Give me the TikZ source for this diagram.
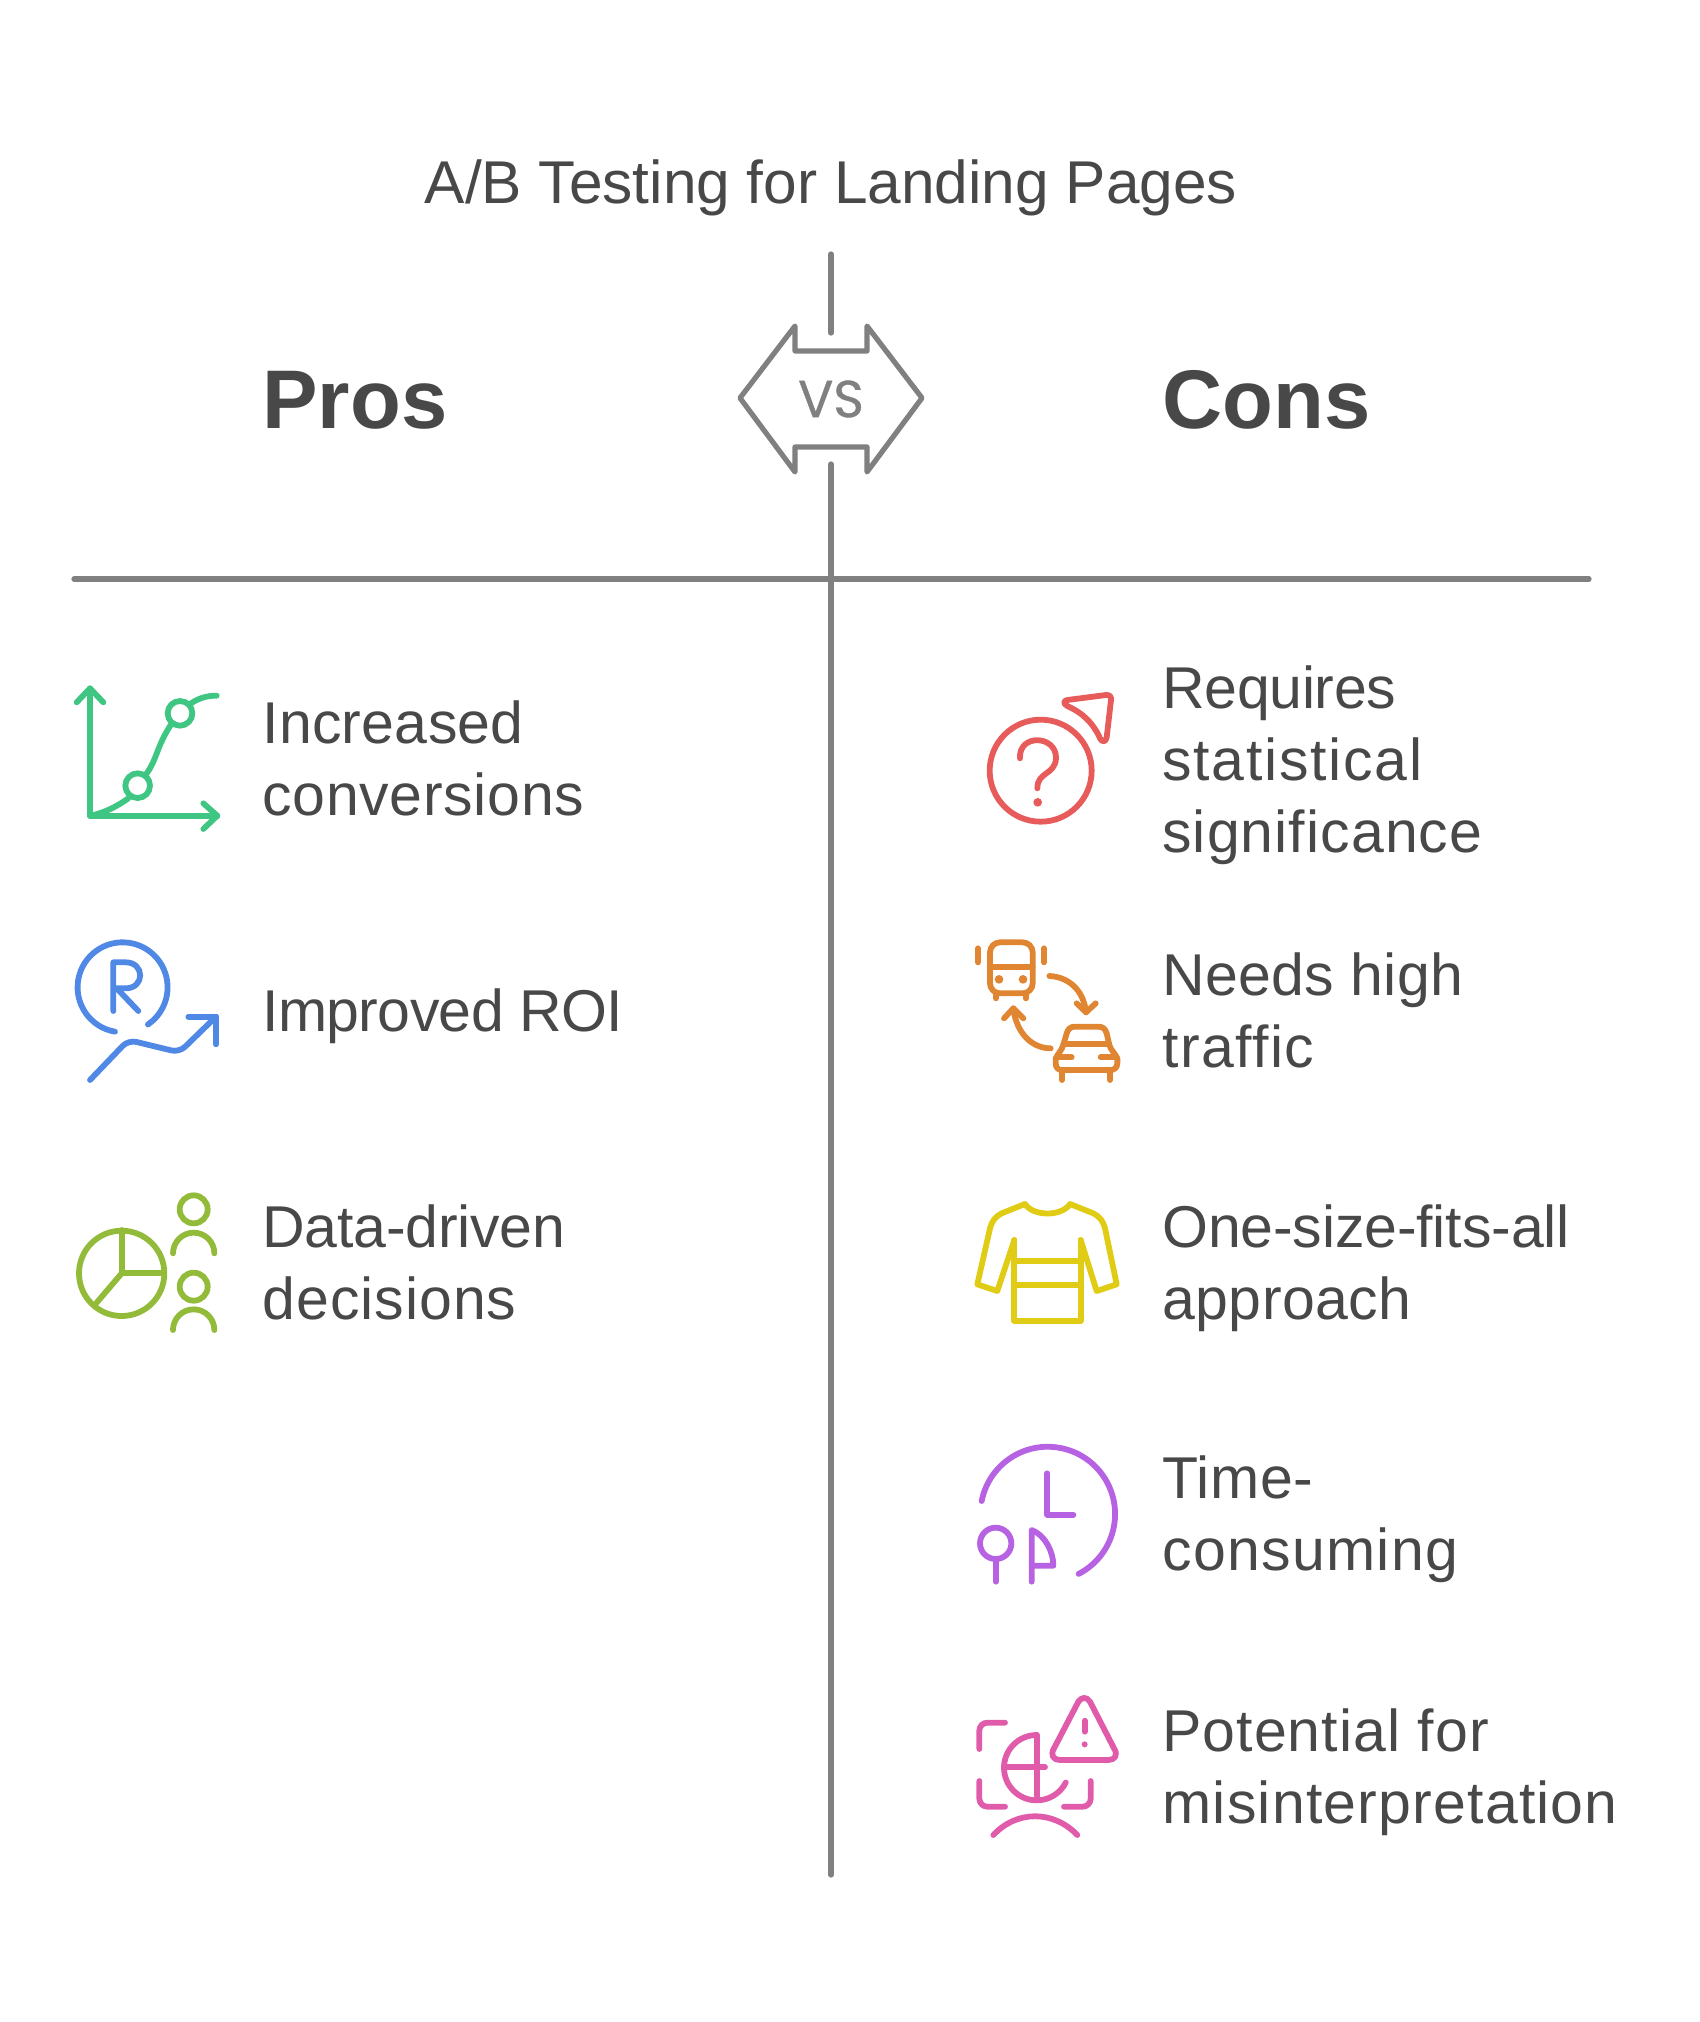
\documentclass[tikz,border=0pt]{standalone}
\usepackage{fontspec}
\setmainfont{Liberation Sans}
\newfontfamily\vsfont[FakeBold=0.7]{Poppins}
\definecolor{ink}{HTML}{484848}
\definecolor{rule}{HTML}{808080}
\definecolor{cgreen}{HTML}{3EC682}
\definecolor{cblue}{HTML}{4F88E5}
\definecolor{clime}{HTML}{93BB3A}
\definecolor{cred}{HTML}{E85B5B}
\definecolor{corange}{HTML}{E08633}
\definecolor{cyellow}{HTML}{E0CB15}
\definecolor{cpurple}{HTML}{B762E2}
\definecolor{cpink}{HTML}{E05CAB}
\tikzset{
  x=0.5pt,y=-0.5pt,
  rulerline/.style={draw=rule,line width=2.6pt,line cap=round,line join=round},
  icon/.style={x=0.16667pt,y=-0.16667pt,line width=2.9pt,line cap=round,line join=round},
  label/.style={anchor=north west,inner sep=0pt,text=ink,align=left,font=\fontsize{29.5}{36}\selectfont},
  head/.style={anchor=base west,inner sep=0pt,text=ink,font=\fontsize{41.6}{48}\selectfont\bfseries},
}
\newcommand{\sz}{\rule{0pt}{30pt}}
\newcommand{\ls}[2]{{\addfontfeature{LetterSpace=#1}#2}}
\begin{document}
\begin{tikzpicture}
\useasboundingbox (0,0) rectangle (1699,2022);
% title and headers
\node[anchor=base,inner sep=0pt,text=ink,font=\fontsize{30.2}{36}\selectfont] (title) at (831,204) {A/B Testing for Landing Pages};
\node[head] (pros) at (262,428) {Pros};
\node[head] (cons) at (1162,428) {Cons};
% rules
\coordinate (vtopA) at (831,254);
\coordinate (vtopB) at (831,333);
\coordinate (vlowA) at (831,464);
\coordinate (vlowB) at (831,1875);
\coordinate (hL) at (74,579);
\coordinate (hR) at (1589,579);
\draw[rulerline] (vtopA) -- (vtopB);
\draw[rulerline] (vlowA) -- (vlowB);
\draw[rulerline] (hL) -- (hR);
% VS badge
\draw[rulerline] (740,398) -- (795,326) -- (795,351) -- (867,351) -- (867,326) -- (922,398) -- (867,472) -- (867,447) -- (795,447) -- (795,472) -- cycle;
\node[inner sep=0pt,text=rule,font=\fontsize{26}{30}\selectfont\vsfont] (vs) at (831,399) {VS};
% labels
\node[label] (l1) at (262,683) {\sz\ls{0.5}{Increased}\\\ls{1.2}{conversions}};
\node[label] (l2) at (262,971) {\sz\ls{-1.1}{Improved ROI}};
\node[label] (l3) at (262,1187) {\sz\ls{-0.4}{Data-driven}\\\ls{1.7}{decisions}};
\node[label] (r1) at (1162,648) {\sz\ls{-0.55}{Requires}\\\ls{3}{statistical}\\\ls{1.8}{significance}};
\node[label] (r2) at (1162,935) {\sz\ls{0.44}{Needs high}\\\ls{2.5}{traffic}};
\node[label] (r3) at (1162,1187) {\sz\ls{-0.26}{One-size-fits-all}\\\ls{0.8}{approach}};
\node[label] (r4) at (1162,1438) {\sz\ls{0.9}{Time-}\\\ls{2.2}{consuming}};
\node[label] (r5) at (1162,1691) {\sz\ls{1.8}{Potential for}\\\ls{2.05}{misinterpretation}};
% icon: growth chart
\begin{scope}[shift={(60,670)},icon,color=cgreen]
\draw (50,97) -- (90,55) -- (130,97);
\draw (90,55) -- (90,437) -- (472,437);
\draw (430,400) -- (472,437) -- (430,477);
\draw (90,437) .. controls (130,430) and (170,410) .. (205,385);
\draw (233,347) circle[radius=37];
\draw (260,310) .. controls (290,270) and (290,230) .. (332,165);
\draw (360,130) circle[radius=37];
\draw (393,100) .. controls (415,85) and (440,77) .. (470,77);
\end{scope}
% icon: ROI
\begin{scope}[shift={(60,925)},icon,color=cblue]
\draw (165,320) arc[start angle=99.7,end angle=415.7,radius=135];
\draw (160,258) -- (160,112) -- (197,112) .. controls (255,112) and (255,190) .. (197,190) -- (160,190);
\draw (175,195) -- (235,258);
\draw[rounded corners=4pt] (90,465) -- (205,345) -- (358,382) -- (468,275);
\draw (385,275) -- (468,275) -- (468,358);
\end{scope}
% icon: pie and people
\begin{scope}[shift={(60,1180)},icon,color=clime]
\draw (185,280) circle[radius=128];
\draw (185,150) -- (185,280) -- (305,280);
\draw (185,280) -- (110,368);
\draw (401,88) circle[radius=42];
\draw (339,220) arc[start angle=180,end angle=360,radius=62];
\draw (401,320) circle[radius=42];
\draw (339,450) arc[start angle=180,end angle=360,radius=62];
\end{scope}
% icon: question
\begin{scope}[shift={(960,680)},icon,color=cred]
\draw (242,272) circle[radius=153];
\draw (322,60) -- (438,45) .. controls (448,44) and (455,50) .. (453,60) -- (440,172) .. controls (438,187) and (425,187) .. (420,175) .. controls (400,130) and (370,100) .. (322,78) .. controls (310,72) and (310,62) .. (322,60) -- cycle;
\draw (180,235) .. controls (175,160) and (290,165) .. (288,235) .. controls (285,285) and (232,275) .. (232,325);
\fill (233,367) circle[radius=13];
\end{scope}
% icon: bus and car
\begin{scope}[shift={(960,925)},icon,color=corange]
\draw[rounded corners=5pt] (90,52) rectangle (218,205);
\draw (90,127) -- (218,127);
\fill (117,163) circle[radius=13];
\fill (189,163) circle[radius=13];
\draw (108,205) -- (108,220);
\draw (197,205) -- (197,220);
\draw (54,70) -- (54,112);
\draw (252,70) -- (252,112);
\draw (268,153) .. controls (320,155) and (370,190) .. (378,262);
\draw (350,235) -- (378,262) -- (407,235);
\draw (272,370) .. controls (220,370) and (170,330) .. (160,250);
\draw (132,280) -- (160,250) -- (190,280);
\draw (287,400) .. controls (295,385) and (305,375) .. (310,360) -- (320,325) .. controls (325,312) and (330,305) .. (345,305) -- (415,305) .. controls (430,305) and (435,312) .. (440,325) -- (448,360) .. controls (452,375) and (465,385) .. (472,400) -- (472,415) .. controls (472,428) and (462,435) .. (452,435) -- (305,435) .. controls (295,435) and (287,428) .. (287,415) -- cycle;
\draw (310,358) -- (447,358);
\draw (290,397) -- (335,397);
\draw (422,397) -- (468,397);
\draw (306,435) -- (306,465);
\draw (450,435) -- (450,465);
\end{scope}
% icon: shirt
\begin{scope}[shift={(960,1180)},icon,color=cyellow]
\draw (163,180) -- (163,422) -- (362,422) -- (362,180);
\draw (163,243) -- (362,243);
\draw (163,315) -- (362,315);
\draw (163,180) -- (112,333) -- (52,313) -- (90,145) .. controls (95,125) and (105,110) .. (125,100) -- (195,72) .. controls (220,110) and (305,110) .. (330,72) -- (400,100) .. controls (420,110) and (430,125) .. (435,145) -- (470,313) -- (410,333) -- (362,180);
\end{scope}
% icon: clock
\begin{scope}[shift={(960,1430)},icon,color=cpurple]
\draw (65,213) arc[start angle=191.2,end angle=422.7,radius=202];
\draw (262,130) -- (262,254) -- (340,254);
\draw (107,340) circle[radius=47];
\draw (107,387) -- (107,455);
\draw (215,455) -- (215,300) .. controls (255,315) and (280,365) .. (280,407) -- (215,407);
\end{scope}
% icon: globe warning
\begin{scope}[shift={(960,1680)},icon,color=cpink]
\draw[rounded corners=4pt] (58,207) -- (58,128) -- (135,128);
\draw[rounded corners=4pt] (58,303) -- (58,380) -- (135,380);
\draw[rounded corners=4pt] (312,380) -- (392,380) -- (392,303);
\draw (230,165) arc[start angle=270,end angle=27,radius=98];
\draw (230,165) -- (230,360);
\draw (132,262) -- (255,262);
\draw (355,65) .. controls (365,50) and (380,50) .. (390,65) -- (462,205) .. controls (475,225) and (465,240) .. (445,240) -- (300,240) .. controls (280,240) and (270,225) .. (282,205) -- cycle;
\draw (374,122) -- (374,155);
\fill (374,193) circle[radius=9];
\draw (100,465) .. controls (170,390) and (280,390) .. (352,465);
\end{scope}
\end{tikzpicture}
\end{document}
